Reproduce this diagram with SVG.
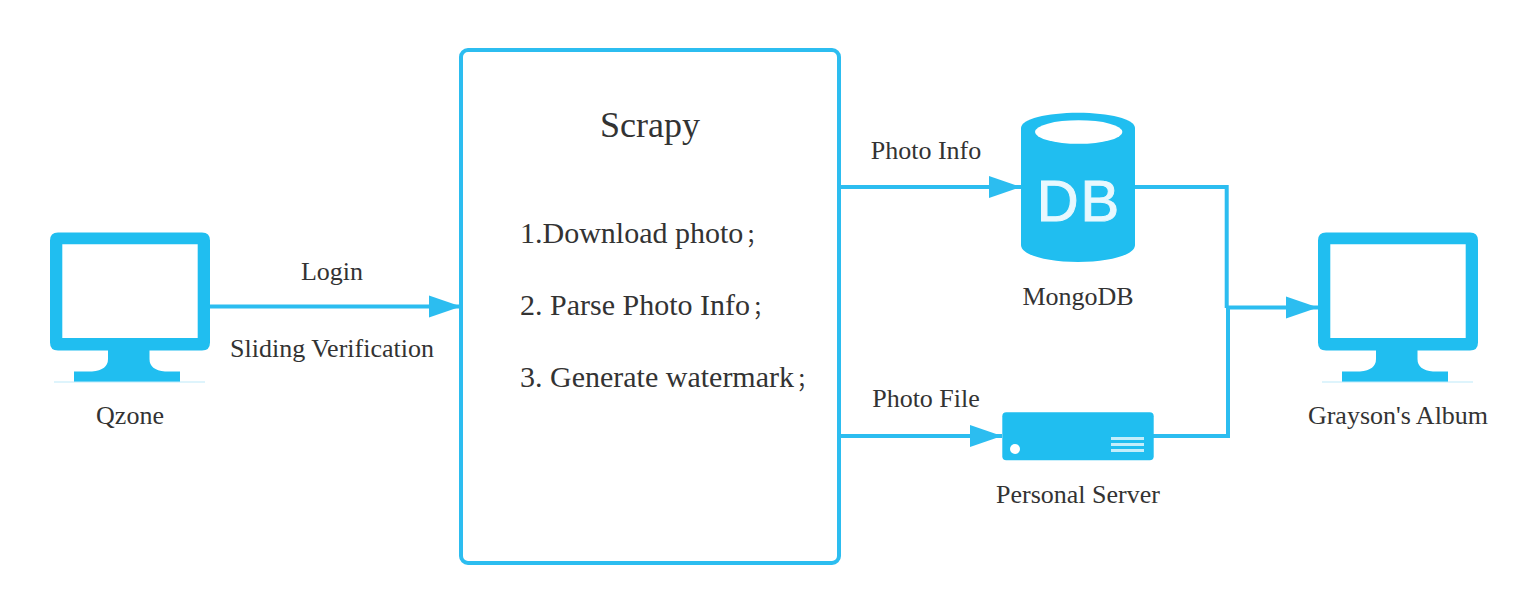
<svg xmlns="http://www.w3.org/2000/svg" width="1528" height="612" viewBox="0 0 1528 612">
<style>
text{font-family:"Liberation Serif","Noto Sans CJK SC",serif;fill:#333}
.l{font-size:26px;text-anchor:middle}
.b{font-size:30px}
.s{font-size:21px}
.i{fill:#20bef0}
.c{fill:none;stroke:#2cbdf0;stroke-width:4}
</style>
<defs>
<marker id="arrow" markerUnits="userSpaceOnUse" markerWidth="33" markerHeight="24" refX="32" refY="12" orient="auto"><path d="M0 1L32 12L0 23Z" fill="#2cbdf0"/></marker>
<g id="monitor">
<path class="i" fill-rule="evenodd" d="M58 232.500H202Q210 232.500 210 240.500V342.500Q210 350.500 202 350.500H149.500V359Q149.500 370 165 371.500H180V382H74V371.500H92Q108 370 108 359V350.500H58Q50 350.500 50 342.500V240.500Q50 232.500 58 232.500ZM62.300 244.300V338H197.700V244.300Z"/>
<rect x="54" y="381.500" width="151" height="1" fill="#bdeafa"/>
</g>
</defs>
<g id="connectors">
<path class="c" marker-end="url(#arrow)" d="M210 306.500H461"/>
<path class="c" marker-end="url(#arrow)" d="M839 187H1021"/>
<path class="c" marker-end="url(#arrow)" d="M839 436H1002"/>
<path class="c" d="M1135 187H1226.700V308"/>
<path class="c" d="M1153 436H1228V307"/>
<path class="c" marker-end="url(#arrow)" d="M1226 307.500H1318"/>
</g>
<g id="qzone">
<use href="#monitor"/>
<text class="l" x="130" y="424">Qzone</text>
</g>
<g id="scrapy">
<rect x="461" y="50" width="378" height="513" rx="7" fill="#fff" stroke="#2cbdf0" stroke-width="4"/>
<text x="650" y="137" text-anchor="middle" font-size="36">Scrapy</text>
<text class="b" x="520" y="243">1.Download photo<tspan class="s" dx="2.500">；</tspan></text>
<text class="b" x="520" y="315">2. Parse Photo Info<tspan class="s" dx="2.500">；</tspan></text>
<text class="b" x="520" y="387">3. Generate watermark<tspan class="s" dx="2.500">；</tspan></text>
</g>
<g id="mongodb">
<path class="i" d="M1021 128C1021 119 1047 112.700 1078 112.700S1135 119 1135 128V245C1135 255 1109 262 1078 262S1021 255 1021 245Z"/>
<ellipse cx="1078.700" cy="132" rx="43.700" ry="11.800" fill="#fff"/>
<text x="1079" y="221" text-anchor="middle" font-size="58" letter-spacing="2" style="font-family:'Liberation Sans',sans-serif;fill:#e8f8fe;stroke:#e8f8fe;stroke-width:1">DB</text>
<text class="l" x="1078" y="305">MongoDB</text>
</g>
<g id="personal-server">
<rect class="i" x="1002.300" y="412.300" width="151.400" height="48" rx="4"/>
<circle cx="1015" cy="449" r="5" fill="#fff"/>
<path d="M1111 438.500H1144M1111 444.500H1144M1111 450.500H1144" stroke="#c4eefb" stroke-width="3" fill="none"/>
<text class="l" x="1078" y="503">Personal Server</text>
</g>
<g id="graysons-album">
<use href="#monitor" x="1268"/>
<text class="l" x="1398" y="424">Grayson's Album</text>
</g>
<g id="labels">
<text class="l" x="332" y="280">Login</text>
<text class="l" x="332" y="357">Sliding Verification</text>
<text class="l" x="926" y="159">Photo Info</text>
<text class="l" x="926" y="407">Photo File</text>
</g>
</svg>
